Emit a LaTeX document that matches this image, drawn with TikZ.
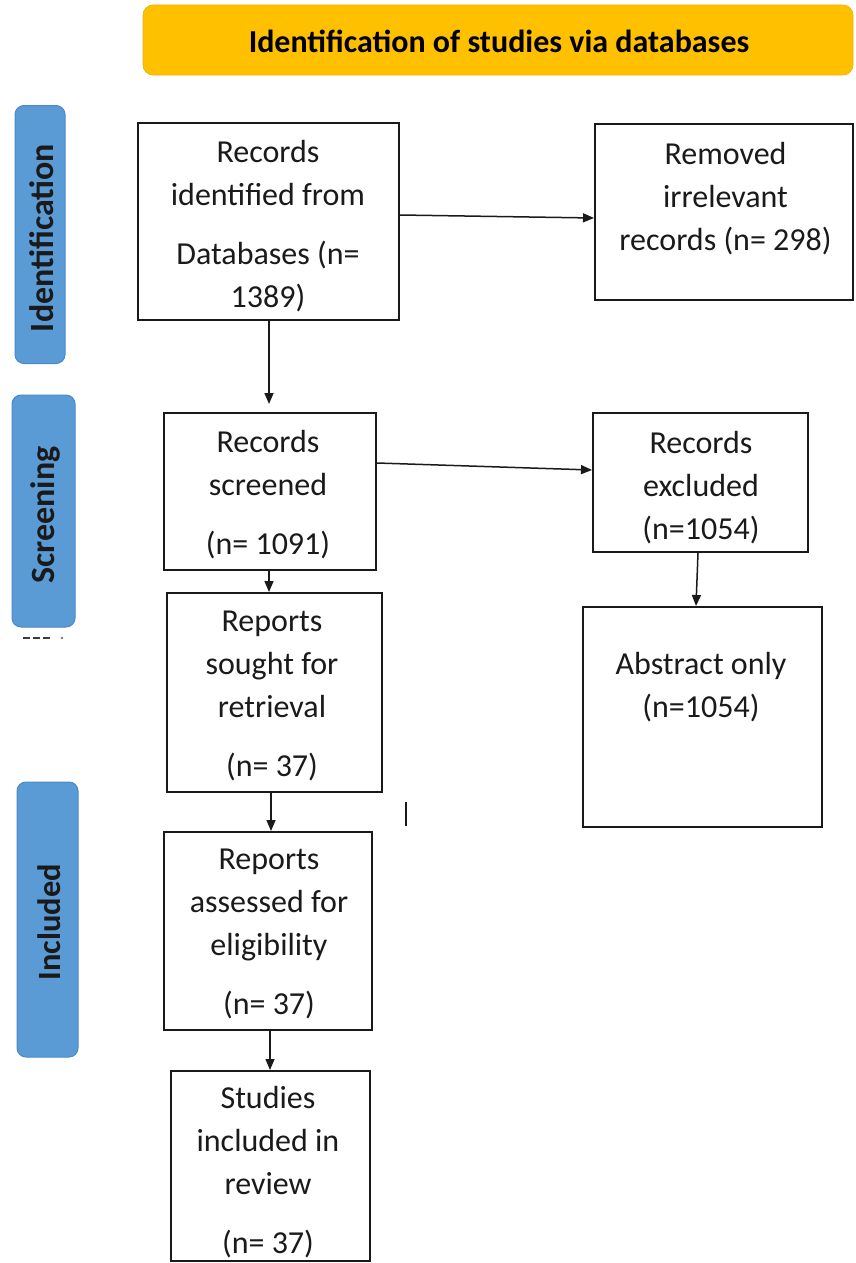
\documentclass[tikz,border=0pt]{standalone}
\usepackage{fontspec}
\setmainfont{Carlito}
\usetikzlibrary{arrows.meta}
\definecolor{hdr}{HTML}{FFC000}
\definecolor{side}{HTML}{5B9BD5}
\definecolor{sideb}{HTML}{4A89C8}
\definecolor{ink}{HTML}{1A1A1A}
\tikzset{
  box/.style={draw=ink, line width=2pt, inner sep=0pt, fill=white},
  txt/.style={align=center, inner sep=0pt, font=\fontsize{32}{43}\selectfont, text=ink},
  sidebox/.style={draw=sideb, line width=1pt, fill=side, rounded corners=9pt, inner sep=0pt},
  sidetxt/.style={font=\fontsize{34}{36}\selectfont\bfseries, rotate=90, inner sep=0pt, text=ink},
  arr/.style={draw=ink, line width=1.5pt, -{Triangle[length=11pt,width=9pt]}},
}
\begin{document}
\begin{tikzpicture}[x=1pt, y=-1pt]
\useasboundingbox (0,0) rectangle (855,1263);
\fill[white] (0,0) rectangle (855,1263);
% header
\node[draw=hdr!92!black, line width=0.6pt, fill=hdr, rounded corners=10pt, minimum width=710pt, minimum height=70pt] (hdr) at (498,40) {};
\node[font=\fontsize{32}{36}\selectfont\bfseries, text=black] (hdrt) at (499,41) {Identification of studies via databases};
% side labels
\node[sidebox, minimum width=50pt, minimum height=258pt] (sid) at (40,234.5) {};
\node[sidetxt] (sidt) at (42,238) {Identification};
\node[sidebox, minimum width=63pt, minimum height=232pt] (sscr) at (43.5,511) {};
\node[sidetxt] (sscrt) at (45,515) {Screening};
\node[sidebox, minimum width=61pt, minimum height=275pt] (sinc) at (47.5,919.5) {};
\node[sidetxt, font=\fontsize{32.5}{36}\selectfont\bfseries] (sinct) at (49,922) {Included};
% stray marks
\draw[ink!85, line width=2.4pt, dash pattern=on 7pt off 3pt] (23,638) -- (52,638);
\fill[ink!60] (62,638) circle (1.3pt);
\coordinate (vt) at (406,802);
\coordinate (vb) at (406,826);
\draw[ink, line width=1.3pt] (vt) -- (vb);
% boxes
\node[box, minimum width=261.5pt, minimum height=197pt] (a) at (268.25,221.5) {};
\node[txt] (at) at (268,226.5) {Records\\identified from\\[16pt]Databases (n=\\1389)};
\node[box, minimum width=258pt, minimum height=176pt] (b) at (724,212) {};
\node[txt] (bt) at (725.5,199) {Removed\\irrelevant\\records (n= 298)};
\node[box, minimum width=212pt, minimum height=157pt] (c) at (270,491.5) {};
\node[txt] (ct) at (268,495) {Records\\screened\\[16pt](n= 1091)};
\node[box, minimum width=215pt, minimum height=139pt] (d) at (700.5,482.5) {};
\node[txt] (dt) at (701,487.5) {Records\\excluded\\(n=1054)};
\node[box, minimum width=239pt, minimum height=220pt] (e) at (702.5,717) {};
\node[txt] (et) at (701,687) {Abstract only\\(n=1054)};
\node[box, minimum width=215pt, minimum height=199pt] (f) at (274.5,692.5) {};
\node[txt] (ft) at (272,696) {Reports\\sought for\\retrieval\\[16pt](n= 37)};
\node[box, minimum width=208pt, minimum height=198pt] (g) at (268,931) {};
\node[txt] (gt) at (269,934) {Reports\\assessed for\\eligibility\\[16pt](n= 37)};
\node[box, minimum width=199pt, minimum height=190pt] (h) at (270.5,1166) {};
\node[txt] (ht) at (268,1172) {Studies\\included in\\review\\[16pt](n= 37)};
% connectors
\draw[arr] (a.east |- 0,215) -- (b.west |- 0,218);
\draw[arr, shorten >=8pt] (a.south -| 269,0) -- (c.north -| 269,0);
\draw[arr] (c.east |- 0,463) -- (d.west |- 0,470);
\draw[arr] (d.south -| 698,0) -- (e.north -| 696,0);
\draw[arr] (c.south -| 269,0) -- (f.north -| 269,0);
\draw[arr] (f.south -| 271,0) -- (g.north -| 271,0);
\draw[arr] (g.south -| 270,0) -- (h.north -| 270,0);
\end{tikzpicture}
\end{document}
